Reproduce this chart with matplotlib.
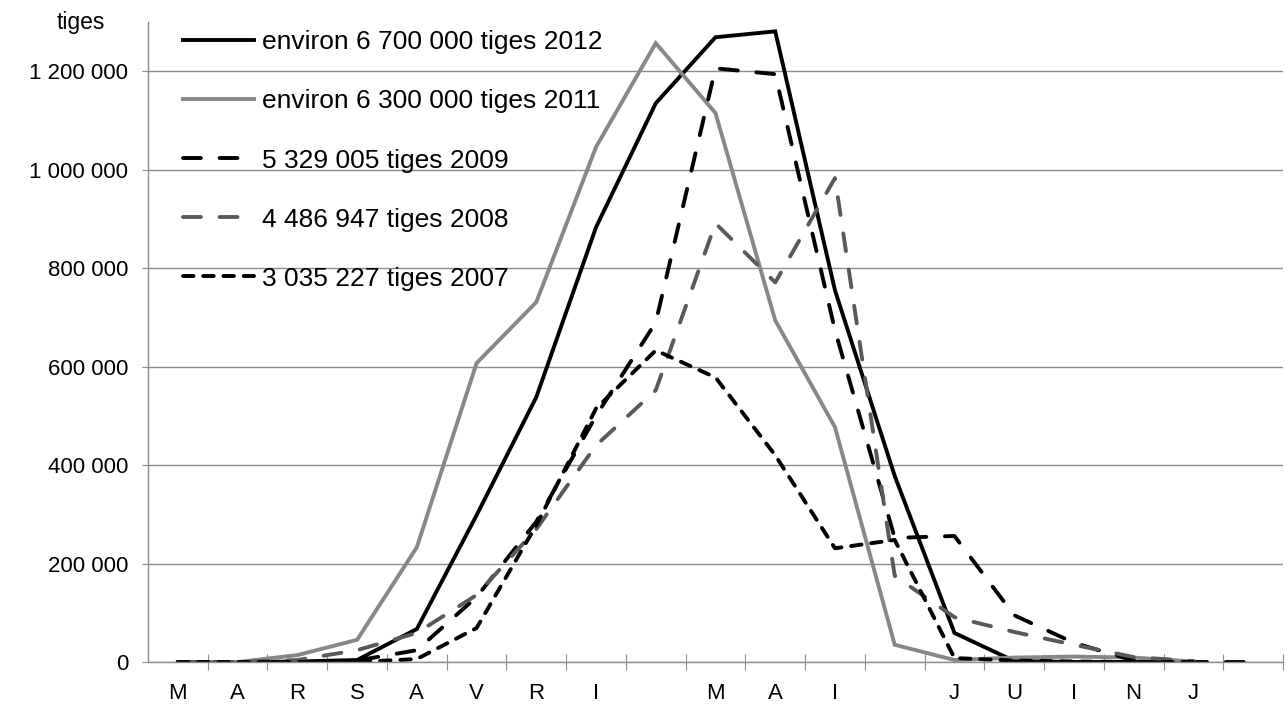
import numpy as np
import matplotlib
matplotlib.use("Agg")
import matplotlib.pyplot as plt
from matplotlib.ticker import FuncFormatter, FixedLocator

nan = np.nan
categories = ['M', 'A', 'R', 'S', 'A', 'V', 'R', 'I', '', 'M', 'A', 'I', '', 'J', 'U', 'I', 'N', 'J', '']

y2012 = [0, 0, 1000, 4000, 67000, 298000, 538000, 883000, 1135000, 1269000, 1281000,
         755000, 378000, 59000, 2000, 0, 0, 0, nan]
y2011 = [0, 0, 14000, 45000, 233000, 607000, 731000, 1046000, 1257000, 1115000, 694000,
         477000, 35000, 4000, 9000, 11000, 9000, 1000, nan]
y2009 = [0, 0, 0, 3000, 24000, 132000, 285000, 500000, 690000, 1206000, 1194000,
         674000, 252000, 256000, 95000, 39000, 3000, 0, 0]
y2008 = [0, 0, 4000, 24000, 59000, 136000, 270000, 440000, 552000, 891000, 771000,
         983000, 175000, 91000, 61000, 35000, 10000, 2000, nan]
y2007 = [0, 0, 0, 0, 6000, 69000, 278000, 515000, 633000, 578000, 420000,
         231000, 248000, 8000, 3000, 1000, 0, 0, nan]

labels = ['environ 6 700 000 tiges 2012', 'environ 6 300 000 tiges 2011',
          '5 329 005 tiges 2009', '4 486 947 tiges 2008', '3 035 227 tiges 2007']

plt.rcParams['font.family'] = ['Liberation Sans', 'DejaVu Sans']

W, H = 1286, 709
fig = plt.figure(figsize=(W / 100, H / 100), dpi=100)
ax = fig.add_axes([148 / W, (H - 662) / H, (1283 - 148) / W, (662 - 22) / H])

x = np.arange(len(categories))
lw = 2.8
grid_c = '#8c8c8c'

ax.plot(x, y2012, color='black', lw=lw, label=labels[0], solid_joinstyle='miter')
ax.plot(x, y2011, color='#878787', lw=lw, label=labels[1], solid_joinstyle='miter')
ax.plot(x, y2009, color='black', lw=lw, label=labels[2], linestyle=(0, (4.6, 4.8)),
        dash_capstyle='round')
ax.plot(x, y2008, color='#595959', lw=lw, label=labels[3], linestyle=(0, (4.6, 4.8)),
        dash_capstyle='round')
ax.plot(x, y2007, color='black', lw=lw, label=labels[4], linestyle=(0, (2.7, 2.5)),
        dash_capstyle='round')

ax.set_xlim(-0.5, len(categories) - 0.5)
ax.set_ylim(0, 1300000)

yt = np.arange(0, 1200001, 200000)
ax.yaxis.set_major_locator(FixedLocator(yt))
ax.yaxis.set_major_formatter(FuncFormatter(lambda v, p: f"{int(v):,}".replace(",", " ")))
ax.yaxis.grid(True, color=grid_c, lw=1.0)
ax.set_axisbelow(True)

ax.xaxis.set_major_locator(FixedLocator(np.arange(0.5, len(categories), 1.0)))
ax.xaxis.set_major_formatter(FuncFormatter(lambda v, p: ''))
ax.xaxis.set_minor_locator(FixedLocator(x))
ax.set_xticklabels(categories, minor=True)

for s in ['top', 'right']:
    ax.spines[s].set_visible(False)
for s in ['left', 'bottom']:
    ax.spines[s].set_color(grid_c)
    ax.spines[s].set_linewidth(1.0)

ax.tick_params(axis='y', which='major', direction='out', length=4.3, color=grid_c,
               labelsize=16, pad=10, labelcolor='black')
ax.tick_params(axis='x', which='major', direction='inout', length=11.5, color=grid_c)
ax.tick_params(axis='x', which='minor', length=0, labelsize=16, pad=15)

fig.text(81 / W, 1 - 22 / H, 'tiges', ha='center', va='center', fontsize=16.5)

leg = ax.legend(loc='upper left', bbox_to_anchor=(0.031, 0.987), frameon=False,
                fontsize=19, handlelength=2.7, handletextpad=0.3,
                labelspacing=1.33, borderpad=0.0, borderaxespad=0.0)

fig.savefig('out.png', dpi=100)
